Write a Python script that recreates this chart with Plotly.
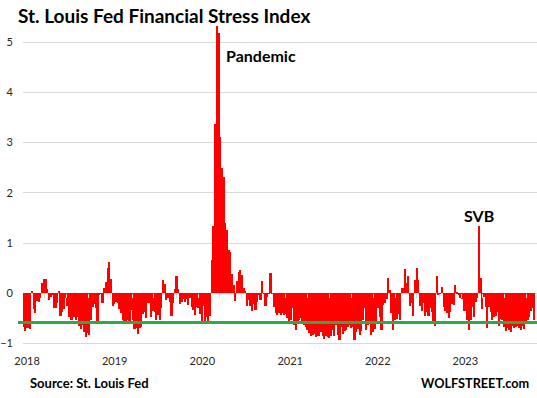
import pandas as pd
import plotly.graph_objects as go

# ---------------- data (weekly) ----------------
first_week = "2018-01-05"
stress = [
    -0.68, -0.75, -0.70, -0.70, -0.72, 0.04, -0.31, -0.40, -0.15, -0.17,
    -0.10, 0.20, 0.29, 0.29, 0.09, -0.13, -0.08, -0.02, -0.29, -0.29,
    -0.19, 0.05, -0.46, -0.38, -0.31, -0.10, -0.25, -0.48, -0.53, -0.53,
    -0.48, -0.53, -0.48, -0.65, -0.72, -0.63, -0.78, -0.88, -0.80, -0.84,
    -0.53, -0.27, -0.22, -0.29, -0.55, -0.03, -0.01, -0.20, 0.10, 0.22,
    0.50, 0.63, 0.29, -0.25, -0.22, -0.18, -0.20, -0.31, -0.40, -0.53,
    -0.61, -0.56, -0.53, -0.55, -0.33, -0.53, -0.72, -0.70, -0.82, -0.70,
    -0.68, -0.41, -0.38, -0.50, -0.19, -0.20, -0.47, -0.35, -0.37, -0.53,
    -0.44, -0.53, -0.30, 0.27, 0.19, -0.13, -0.10, -0.17, -0.45, -0.20,
    0.09, 0.35, 0.09, -0.21, -0.17, -0.11, -0.17, -0.11, -0.23, -0.10,
    -0.27, -0.33, -0.43, -0.27, -0.30, -0.41, -0.55, -0.25, -0.57, -0.48,
    -0.56, -0.45, 0.66, 1.34, 3.37, 5.32, 5.18, 3.11, 2.49, 2.32,
    1.40, 1.25, 0.86, 0.83, 0.39, 0.17, -0.15, 0.25, 0.43, 0.46,
    0.37, 0.10, 0.05, -0.25, -0.13, -0.25, -0.35, -0.21, -0.33, -0.17,
    -0.03, -0.13, 0.25, -0.03, -0.25, -0.07, -0.01, 0.40, -0.01, -0.27,
    -0.39, -0.44, -0.39, -0.44, -0.40, -0.44, -0.41, -0.50, -0.55, -0.53,
    -0.30, -0.63, -0.73, -0.60, -0.53, -0.50, -0.57, -0.63, -0.68, -0.74,
    -0.80, -0.86, -0.83, -0.82, -0.88, -0.85, -0.86, -0.78, -0.86, -0.92,
    -0.85, -0.88, -0.90, -0.86, -0.74, -0.85, -0.63, -0.83, -0.94, -0.68,
    -0.82, -0.76, -0.73, -0.68, -0.63, -0.70, -0.68, -0.94, -0.78, -0.72,
    -0.83, -0.75, -0.53, -0.30, -0.74, -0.63, -0.56, -0.83, -0.78, -0.72,
    -0.60, -0.30, -0.48, -0.74, -0.23, -0.20, -0.12, 0.30, 0.07, -0.40,
    -0.73, -0.53, -0.52, -0.41, -0.53, 0.10, 0.11, 0.48, 0.21, 0.35,
    -0.25, -0.20, -0.45, 0.27, 0.50, 0.27, -0.25, -0.35, -0.20, -0.46,
    -0.37, -0.46, -0.30, -0.37, -0.56, -0.65, 0.35, -0.03, -0.01, 0.13,
    -0.27, -0.35, -0.40, -0.50, -0.38, -0.21, -0.23, 0.17, 0.03, -0.03,
    -0.10, -0.12, -0.35, -0.35, -0.53, -0.74, -0.53, -0.27, -0.48, -0.17,
    -0.10, 1.34, 0.30, -0.32, -0.08, -0.27, -0.70, -0.27, -0.37, -0.53,
    -0.48, -0.46, -0.37, -0.65, -0.52, -0.53, -0.68, -0.76, -0.70, -0.73,
    -0.78, -0.65, -0.70, -0.68, -0.66, -0.70, -0.74, -0.65, -0.72, -0.62,
    -0.53, -0.48, -0.35, -0.30, -0.53,
]
reference_level = -0.58
year_labels = ["2018", "2019", "2020", "2021", "2022", "2023"]
y_ticks = [-1, 0, 1, 2, 3, 4, 5]

dates = pd.date_range(first_week, periods=len(stress), freq="7D")

# ---------------- layout constants ----------------
W, H = 537, 398
ML, MR, MT, MB = 23, 0, 22, 52
plot_w = W - ML - MR
plot_h = H - MT - MB
px_per_day = 1.68 / 7.0
x_start = pd.Timestamp(first_week) - pd.Timedelta(hours=84)
x_end = x_start + pd.Timedelta(days=plot_w / px_per_day)
y_range = [-1.05, 5.4]

FONT = "Lato"
RED = "#FF0000"
GREEN = "#2BAA4A"
GRID = "#D9D9D9"

fig = go.Figure()
fig.add_trace(go.Bar(
    x=dates, y=stress, marker=dict(color=RED, line=dict(width=0)),
    hoverinfo="skip", showlegend=False,
))
# helper invisible trace for the quarter tick marks on the zero line
fig.add_trace(go.Scatter(
    x=[dates[0]], y=[0], xaxis="x2", mode="markers",
    marker=dict(opacity=0), hoverinfo="skip", showlegend=False,
))

# peaks for annotations (taken from the data)
peak_i = max(range(len(stress)), key=lambda k: stress[k])
svb_i = max(range(len(stress)), key=lambda k: stress[k] if dates[k].year == 2023 else -9)

fig.update_layout(
    width=W, height=H,
    margin=dict(l=ML, r=MR, t=MT, b=MB, autoexpand=False),
    paper_bgcolor="white", plot_bgcolor="white",
    bargap=0,
    title=dict(
        text="<b>St. Louis Fed Financial Stress Index</b>",
        font=dict(family=FONT, size=19, color="#000000"),
        x=18 / W, xanchor="left", xref="container",
        y=1 - 16 / H, yanchor="middle", yref="container",
        automargin=False,
    ),
    xaxis=dict(
        type="date", range=[x_start, x_end], automargin=False,
        showgrid=False, zeroline=False, showline=False, ticks="",
        tickvals=[pd.Timestamp(f"{y}-01-02") for y in year_labels],
        ticktext=year_labels,
        tickfont=dict(family=FONT, size=11, color="#262626"),
        ticklabelshift=4, ticklabelstandoff=7,
    ),
    xaxis2=dict(
        type="date", overlaying="x", matches="x", anchor="free",
        position=(0 - y_range[0]) / (y_range[1] - y_range[0]),
        automargin=False,
        showgrid=False, zeroline=False, showline=False,
        ticks="outside", ticklen=4, tickwidth=1, tickcolor=GRID,
        dtick="M3", tick0="2018-01-01", showticklabels=False,
        layer="above traces",
    ),
    yaxis=dict(
        range=y_range, tickvals=y_ticks, automargin=False,
        showgrid=True, gridcolor=GRID, gridwidth=1,
        zeroline=True, zerolinecolor=GRID, zerolinewidth=1,
        showline=False, ticks="",
        tickfont=dict(family=FONT, size=11, color="#262626"),
        ticklabelstandoff=9,
    ),
    shapes=[dict(
        type="line", xref="paper", yref="y",
        x0=-5 / plot_w, x1=1, y0=reference_level, y1=reference_level,
        line=dict(color=GREEN, width=3), layer="above",
    )],
    annotations=[
        dict(text="<b>Pandemic</b>", x=dates[peak_i], y=stress[peak_i],
             xref="x", yref="y", xanchor="left", yanchor="middle",
             xshift=7, yshift=-29, showarrow=False,
             font=dict(family=FONT, size=16, color="#000000")),
        dict(text="<b>SVB</b>", x=dates[svb_i], y=stress[svb_i],
             xref="x", yref="y", xanchor="center", yanchor="middle",
             yshift=10, showarrow=False,
             font=dict(family=FONT, size=16, color="#000000")),
        dict(text="<b>Source: St. Louis Fed</b>", x=5 / plot_w, y=-37 / plot_h,
             xref="paper", yref="paper", xanchor="left", yanchor="middle",
             showarrow=False, font=dict(family=FONT, size=13, color="#000000")),
        dict(text="<b>WOLFSTREET.com</b>", x=(530.5 - ML) / plot_w, y=-37 / plot_h,
             xref="paper", yref="paper", xanchor="right", yanchor="middle",
             showarrow=False, font=dict(family=FONT, size=12.7, color="#000000")),
    ],
)

fig.write_html(
    "out.html",
    config={"displayModeBar": False},
    post_script="document.body.style.margin='0';document.body.style.overflow='hidden';",
)
